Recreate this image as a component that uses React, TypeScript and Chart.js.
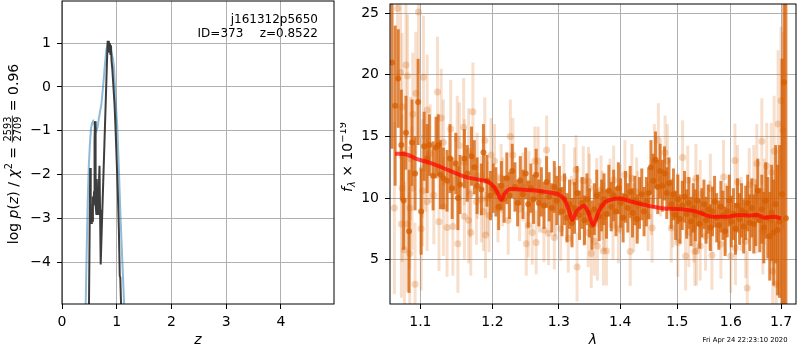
import React, { useEffect, useRef } from "react";
import { Chart, registerables } from "chart.js";
Chart.register(...registerables);

const FAM = "'DejaVu Sans', sans-serif";
const GRID = "#b0b0b0";

// ---------------- left panel: log p(z) ----------------
const zTicks = [0, 1, 2, 3, 4];
const logpTicks = [-4, -3, -2, -1, 0, 1];
const zBlue = [0.42, 0.433, 0.45, 0.47, 0.49, 0.51, 0.53, 0.55, 0.57, 0.59, 0.61, 0.63, 0.65, 0.67, 0.69, 0.72, 0.75, 0.78, 0.81, 0.84, 0.87, 0.9, 0.93, 0.95, 0.98, 1.01, 1.04, 1.07, 1.1, 1.13, 1.15];
const logpBlue = [-6.0, -4.95, -3.8, -2.6, -1.8, -1.3, -0.95, -0.82, -0.78, -0.85, -0.95, -1.0, -0.92, -0.75, -0.6, -0.4, 0.0, 0.45, 0.85, 1.0, 0.95, 0.8, 0.65, 0.45, -0.3, -0.9, -1.9, -3.0, -3.9, -4.8, -5.5];
const zDark = [0.485, 0.5, 0.515, 0.525, 0.535, 0.545, 0.555, 0.565, 0.575, 0.585, 0.595, 0.603, 0.61, 0.618, 0.628, 0.635, 0.645, 0.655, 0.665, 0.675, 0.685, 0.695, 0.707, 0.72, 0.74, 0.76, 0.78, 0.8, 0.82, 0.835, 0.845, 0.855, 0.865, 0.875, 0.885, 0.895, 0.905, 0.92, 0.94, 0.96, 0.98, 1.0, 1.02, 1.04, 1.055, 1.065, 1.08, 1.095];
const logpDark = [-6.0, -4.0, -1.85, -2.6, -3.1, -2.8, -3.05, -2.5, -2.7, -2.4, -1.2, -0.78, -1.6, -2.7, -2.9, -2.1, -2.7, -2.3, -2.9, -2.2, -1.8, -2.8, -4.05, -3.5, -2.7, -1.9, -1.1, -0.3, 0.5, 1.05, 0.9, 1.05, 0.8, 1.0, 0.75, 0.95, 0.6, 0.4, 0.0, -0.4, -1.0, -1.7, -2.4, -3.3, -4.3, -4.35, -5.0, -6.0];
const objName = "j161312p5650";
const objId = "ID=373";
const objZ = "z=0.8522";
const chi2Num = "2593";
const chi2Den = "2709";
const chi2Val = "0.96";

// ---------------- right panel: spectrum ----------------
const lamTicks = [1.1, 1.2, 1.3, 1.4, 1.5, 1.6, 1.7];
const fluxTicks = [5, 10, 15, 20, 25];

const darkLam = [
  1.063, 1.067, 1.071, 1.075, 1.078, 1.081, 1.085, 1.089, 1.093, 1.097, 1.101, 1.105, 1.109, 1.112, 1.117, 1.121, 1.124, 1.127, 1.131, 1.136, 1.14, 1.143, 1.148, 1.151, 1.154, 1.16, 1.164, 1.17, 1.174, 1.178, 1.184, 1.187, 1.192, 1.197, 1.201,
  1.205, 1.209, 1.213, 1.217, 1.221, 1.225, 1.229, 1.233, 1.237, 1.241, 1.245, 1.249, 1.253, 1.257, 1.261, 1.265, 1.269, 1.273, 1.277, 1.281, 1.285, 1.289, 1.293, 1.297, 1.301, 1.305, 1.309, 1.313, 1.317, 1.321, 1.325, 1.329, 1.333, 1.337, 1.341, 1.345, 1.349, 1.353, 1.357, 1.361, 1.365, 1.369,
  1.373, 1.377, 1.381, 1.385, 1.389, 1.393, 1.397, 1.401, 1.405, 1.409, 1.413, 1.417, 1.421, 1.425, 1.429, 1.433, 1.437, 1.441, 1.445, 1.449, 1.453, 1.457, 1.461, 1.465, 1.469, 1.473, 1.477, 1.481, 1.485, 1.489, 1.493, 1.497, 1.501, 1.505, 1.509, 1.513, 1.517, 1.521, 1.525, 1.529, 1.533, 1.537, 1.541,
  1.545, 1.549, 1.553, 1.557, 1.561, 1.565, 1.569, 1.573, 1.577, 1.581, 1.585, 1.589, 1.593, 1.597, 1.601, 1.605, 1.609, 1.613, 1.617, 1.621, 1.625, 1.629, 1.633, 1.637, 1.641, 1.645, 1.649, 1.653, 1.657, 1.661, 1.665, 1.669, 1.673, 1.677, 1.681, 1.685, 1.689, 1.693, 1.697,
  1.702, 1.706, 1.71,
];
const darkFlux = [
  21.0, 17.5, 19.7, 14.3, 9.8, 15.3, 7.3, 14.5, 12.0, 17.8, 8.9, 14.2, 13.2, 14.3, 11.8, 14.1, 14.3, 11.9, 11.6, 11.4, 13.2, 10.8, 12.8, 10.0, 11.1, 13.2, 12.0, 13.4, 12.5, 11.0, 10.7, 13.7, 11.4, 10.2, 10.8,
  10.5, 9.3, 11.0, 9.9, 11.6, 10.2, 12.2, 10.9, 9.6, 11.4, 10.3, 12.0, 9.5, 10.8, 9.9, 11.9, 9.6, 10.5, 9.4, 11.3, 10.1, 9.2, 10.9, 9.8, 10.6, 8.9, 9.9, 8.4, 9.5, 8.0, 9.2, 10.4, 8.6, 9.6, 8.2, 9.9, 8.8, 7.8, 9.1, 10.2, 8.5, 9.4,
  9.9, 8.7, 10.6, 9.3, 10.2, 8.9, 10.8, 9.6, 8.4, 10.1, 9.2, 10.5, 8.8, 9.8, 8.3, 9.6, 10.3, 8.9, 9.7, 10.4, 12.5, 11.4, 13.1, 10.9, 12.2, 11.0, 12.0, 10.4, 11.2, 9.5, 10.3, 8.6, 9.9, 8.3, 9.4, 10.1, 8.7, 9.6, 8.1, 9.2, 8.6, 9.8, 7.9,
  8.8, 9.5, 8.2, 9.1, 7.6, 8.9, 9.7, 8.4, 7.8, 9.3, 8.6, 7.3, 8.9, 9.8, 8.1, 8.7, 7.5, 9.4, 8.3, 9.0, 7.7, 8.8, 9.6, 8.0, 9.2, 7.9, 8.6, 10.6, 8.2, 9.1, 7.6, 9.8, 8.4, 6.9, 8.8, 7.2, 9.5, 7.4, 8.1,
  10.3, 19.4, 8.35,
];
const darkErr = [
  7.0, 6.5, 4.0, 4.5, 4.0, 3.0, 5.0, 3.5, 3.0, 3.5, 3.5, 2.8, 2.8, 2.5, 2.8, 2.5, 2.5, 2.8, 2.5, 2.5, 2.8, 2.5, 2.5, 2.6, 2.4, 2.4, 2.3, 2.4, 2.2, 2.3, 2.1, 2.3, 2.1, 2.0, 2.0,
  2.0, 1.9, 2.0, 1.9, 2.1, 1.9, 2.2, 2.0, 1.9, 2.0, 2.0, 2.1, 1.9, 2.0, 2.0, 2.1, 1.9, 2.0, 1.9, 2.1, 2.0, 2.0, 2.1, 2.0, 2.0, 2.0, 2.1, 2.0, 2.0, 2.0, 2.1, 2.2, 2.0, 2.1, 2.0, 2.1, 2.0, 2.0, 2.1, 2.1, 2.0, 2.1,
  2.1, 2.0, 2.1, 2.0, 2.1, 2.0, 2.1, 2.0, 2.0, 2.1, 2.0, 2.1, 2.0, 2.0, 2.0, 2.1, 2.1, 2.0, 2.0, 2.1, 2.2, 2.2, 2.3, 2.2, 2.2, 2.1, 2.2, 2.1, 2.1, 2.0, 2.1, 2.0, 2.0, 2.0, 2.0, 2.1, 2.0, 2.1, 2.0, 2.0, 2.1, 2.1, 2.0,
  2.0, 2.0, 1.9, 2.0, 1.9, 2.0, 2.1, 2.0, 2.0, 2.1, 2.0, 2.0, 2.1, 2.1, 2.1, 2.1, 2.1, 2.2, 2.1, 2.2, 2.2, 2.2, 2.3, 2.3, 2.4, 2.4, 2.5, 2.6, 2.6, 2.8, 2.9, 3.1, 3.3, 3.6, 3.9, 4.3, 4.8, 5.3, 6.2,
  11.0, 18.0, 20.0,
];

const faintLam = [
  1.07, 1.0975, 1.081, 1.074, 1.083, 1.104, 1.123, 1.094, 1.076, 1.109, 1.09, 1.172, 1.128, 1.141, 1.159, 1.15, 1.189, 1.131, 1.153, 1.166, 1.113, 1.107, 1.103, 1.087, 1.16, 1.178, 1.076, 1.089, 1.103, 1.118, 1.109, 1.168, 1.177, 1.184, 1.131, 1.193, 1.066, 1.086, 1.16, 1.166, 1.187, 1.195, 1.125, 1.136, 1.144, 1.169, 1.19, 1.075, 1.083, 1.101, 1.151, 1.079, 1.086, 1.093,
  1.2262, 1.23, 1.281, 1.198, 1.203, 1.263, 1.268, 1.3274, 1.2127, 1.254, 1.308, 1.325, 1.339, 1.3475, 1.349, 1.361, 1.208, 1.223, 1.24, 1.253, 1.259, 1.277, 1.284, 1.25, 1.265, 1.293, 1.303, 1.315, 1.329, 1.347, 1.357, 1.362, 1.352, 1.377,
  1.466, 1.478, 1.482, 1.459, 1.5095, 1.408, 1.389, 1.42, 1.519, 1.534, 1.368, 1.383, 1.428, 1.454, 1.373, 1.388, 1.397, 1.423, 1.448, 1.455, 1.489, 1.492, 1.521, 1.53, 1.372, 1.417, 1.501, 1.515, 1.532, 1.542,
  1.661, 1.608, 1.586, 1.651, 1.671, 1.686, 1.613, 1.561, 1.542, 1.636, 1.645, 1.68, 1.7, 1.666, 1.552, 1.564, 1.581, 1.6, 1.609, 1.629, 1.663, 1.632, 1.683, 1.69, 1.535, 1.694, 1.704,
  1.215, 1.245, 1.27, 1.295, 1.32, 1.34, 1.37, 1.4, 1.43, 1.47, 1.5, 1.53, 1.56, 1.59, 1.62, 1.65, 1.68,
];
const faintFlux = [
  25.4, 25.1, 20.8, 20.2, 19.9, 19.8, 18.6, 18.5, 17.4, 17.15, 16.8, 17.0, 16.5, 15.6, 15.75, 14.8, 14.67, 14.5, 14.27, 13.8, 13.6, 12.9, 12.4, 13.2, 12.9, 11.8, 10.8, 10.8, 10.6, 10.25, 9.7, 10.3, 9.7, 9.9, 9.3, 9.97, 9.2, 9.2, 8.5, 8.2, 8.9, 8.6, 8.08, 7.6, 7.7, 7.2, 7.0, 7.9, 7.9, 7.5, 6.3, 5.8, 5.5, 3.0,
  15.0, 13.5, 13.9, 13.5, 13.0, 13.0, 13.0, 12.3, 11.6, 11.2, 11.6, 11.3, 11.4, 11.35, 10.8, 10.45, 9.2, 8.2, 9.1, 7.77, 7.2, 7.4, 7.15, 6.3, 6.4, 6.8, 7.5, 6.74, 4.4, 7.2, 6.5, 6.1, 5.5, 5.7,
  14.7, 13.7, 13.0, 13.0, 13.3, 11.9, 11.45, 11.6, 11.45, 11.6, 10.65, 10.4, 10.5, 9.8, 8.5, 7.8, 7.5, 8.4, 8.5, 7.56, 7.56, 8.8, 7.2, 7.56, 5.7, 5.67, 6.4, 5.3, 5.67, 6.1,
  14.6, 13.05, 11.7, 12.8, 12.6, 13.8, 11.3, 10.8, 10.3, 11.05, 11.3, 12.1, 17.9, 9.7, 6.9, 5.35, 6.25, 5.3, 5.94, 6.5, 7.3, 2.7, 4.06, 3.0, 5.7, 16.0, 15.5,
  10.5, 10.9, 10.0, 9.7, 9.0, 8.9, 9.4, 9.9, 9.4, 11.5, 9.2, 8.8, 8.6, 8.4, 8.7, 8.5, 8.2,
];
const faintErr = [
  6, 5, 6, 7, 5, 5, 4.5, 5, 6, 4.5, 5, 4, 4, 4, 4, 3.5, 3.5, 3.5, 3.5, 3.5, 4, 4, 4, 5, 3.5, 3.5, 6, 5, 4.5, 4, 4, 3.5, 3.5, 3.5, 4, 3, 7, 5, 3.5, 3.5, 3.2, 3, 4, 4, 4, 3.5, 3.5, 6, 5.5, 5, 4, 5.5, 5, 5,
  3.0, 3.0, 2.8, 3.0, 3.0, 2.8, 2.8, 2.8, 2.8, 2.6, 2.8, 2.8, 2.8, 2.8, 2.8, 2.8, 2.8, 2.8, 2.6, 2.6, 2.6, 2.6, 2.6, 2.6, 2.6, 2.6, 2.6, 2.8, 2.8, 2.8, 2.8, 2.8, 2.8, 2.8,
  3.0, 3.0, 3.0, 3.0, 3.0, 2.8, 2.8, 2.8, 2.8, 2.8, 2.8, 2.8, 2.8, 2.8, 2.8, 2.8, 2.8, 2.8, 2.8, 2.8, 2.8, 2.8, 2.8, 2.8, 2.8, 2.8, 2.8, 2.8, 2.8, 2.8,
  3.5, 3.0, 3.0, 3.2, 3.5, 4.5, 3.0, 2.8, 2.8, 3.0, 3.0, 4.0, 6.0, 3.5, 2.8, 2.8, 2.8, 3.0, 3.0, 3.0, 3.5, 3.0, 4.5, 5.0, 2.8, 6.0, 8.0,
  2.8, 2.8, 2.8, 2.8, 2.8, 2.8, 2.8, 2.8, 2.8, 3.0, 2.8, 2.8, 2.8, 2.8, 3.0, 3.0, 3.5,
];

const modelLam = [1.067, 1.083, 1.094, 1.116, 1.138, 1.161, 1.184, 1.194, 1.204, 1.2085, 1.2126, 1.217, 1.2262, 1.251, 1.279, 1.3077, 1.315, 1.3216, 1.328, 1.333, 1.34, 1.3465, 1.3553, 1.364, 1.373, 1.376, 1.398, 1.4197, 1.448, 1.476, 1.505, 1.535, 1.5645, 1.595, 1.6155, 1.635, 1.652, 1.666, 1.686, 1.7];
const modelFlux = [13.6, 13.52, 13.2, 12.8, 12.26, 11.72, 11.45, 11.3, 10.8, 10.3, 9.84, 10.3, 10.73, 10.65, 10.5, 9.97, 9.16, 8.23, 8.9, 9.16, 9.38, 8.9, 7.82, 8.9, 9.57, 9.7, 9.97, 9.7, 9.38, 9.16, 9.1, 8.9, 8.49, 8.49, 8.63, 8.57, 8.63, 8.41, 8.49, 8.35];

const stamp = "Fri Apr 24 22:23:10 2020";

// ---------------- helpers ----------------
const minus = (s: string) => s.replace("-", "\u2212");

type Seg = { t?: string; size: number; it?: boolean; dy?: number; frac?: [string, string] };
const fnt = (s: Seg) => `${s.it ? "italic " : ""}${s.size}px ${FAM}`;

function drawRich(ctx: CanvasRenderingContext2D, segs: Seg[], ox: number, oy: number) {
  ctx.save();
  ctx.translate(ox, oy);
  ctx.rotate(-Math.PI / 2);
  ctx.fillStyle = "#000";
  ctx.textBaseline = "alphabetic";
  ctx.textAlign = "left";
  const widths = segs.map((s) => {
    ctx.font = fnt(s);
    if (s.frac) return Math.max(ctx.measureText(s.frac[0]).width, ctx.measureText(s.frac[1]).width) + 2;
    return ctx.measureText(s.t as string).width;
  });
  const total = widths.reduce((a, b) => a + b, 0);
  let x = -total / 2;
  segs.forEach((s, i) => {
    ctx.font = fnt(s);
    const w = widths[i];
    if (s.frac) {
      const [n, d] = s.frac;
      const nw = ctx.measureText(n).width;
      const dw = ctx.measureText(d).width;
      ctx.fillText(n, x + (w - nw) / 2, -7);
      ctx.fillText(d, x + (w - dw) / 2, 3);
      ctx.fillRect(x, -5.6, w, 0.8);
    } else {
      ctx.fillText(s.t as string, x, s.dy || 0);
    }
    x += w;
  });
  ctx.restore();
}

const framePlugin = {
  id: "frame",
  afterDatasetsDraw(chart: any) {
    const { ctx, chartArea: a } = chart;
    ctx.save();
    ctx.strokeStyle = "#000";
    ctx.lineWidth = 1;
    ctx.strokeRect(a.left, a.top, a.right - a.left, a.bottom - a.top);
    ctx.restore();
  },
};

const errorBarPlugin = {
  id: "errbars",
  beforeDatasetDraw(chart: any, args: any) {
    const ds: any = chart.data.datasets[args.index];
    if (!ds.errors) return;
    const { ctx, chartArea: a, scales } = chart;
    const xs = scales.x;
    const ys = scales.y;
    ctx.save();
    ctx.beginPath();
    ctx.rect(a.left, a.top, a.right - a.left, a.bottom - a.top);
    ctx.clip();
    ctx.strokeStyle = ds.errorColor;
    ctx.lineWidth = ds.errorWidth;
    ds.data.forEach((p: any, i: number) => {
      const e = ds.errors[i];
      const px = xs.getPixelForValue(p.x);
      ctx.beginPath();
      ctx.moveTo(px, ys.getPixelForValue(p.y - e));
      ctx.lineTo(px, ys.getPixelForValue(p.y + e));
      ctx.stroke();
    });
    ctx.restore();
  },
};

const leftTextPlugin = {
  id: "leftText",
  afterDraw(chart: any) {
    const ctx: CanvasRenderingContext2D = chart.ctx;
    ctx.save();
    ctx.fillStyle = "#000";
    ctx.font = `12px ${FAM}`;
    ctx.textAlign = "right";
    ctx.textBaseline = "alphabetic";
    ctx.fillText(objName, 318, 22.7);
    ctx.fillText(objZ, 318, 37.3);
    ctx.fillText(objId, 243.3, 37.3);
    ctx.restore();
    drawRich(
      ctx,
      [
        { t: "log", size: 14 },
        { t: " ", size: 14 },
        { t: "p", size: 14, it: true },
        { t: "(", size: 14 },
        { t: "z", size: 14, it: true },
        { t: ")", size: 14 },
        { t: " / ", size: 14 },
        { t: "\u03c7", size: 14, it: true },
        { t: "2", size: 9.8, dy: -5.6 },
        { t: " = ", size: 14 },
        { frac: [chi2Num, chi2Den], size: 9.8 },
        { t: " = " + chi2Val, size: 14 },
      ],
      17.5,
      154
    );
  },
};

const rightTextPlugin = {
  id: "rightText",
  afterDraw(chart: any) {
    const ctx: CanvasRenderingContext2D = chart.ctx;
    drawRich(
      ctx,
      [
        { t: "f", size: 14, it: true },
        { t: "\u03bb", size: 9.8, it: true, dy: 3 },
        { t: " \u00d7 10", size: 14 },
        { t: "\u221219", size: 9.8, dy: -6 },
      ],
      11.5,
      157
    );
    ctx.save();
    ctx.fillStyle = "#000";
    ctx.font = `6.8px ${FAM}`;
    ctx.textAlign = "center";
    ctx.textBaseline = "middle";
    ctx.fillText(stamp, 405, 340);
    ctx.restore();
  },
};

const tickFont = { family: FAM, size: 14 };

function axisX(min: number, max: number, ticks: number[], title: string, type: string, fmt: (v: number) => string) {
  return {
    type,
    min,
    max,
    afterBuildTicks: (s: any) => {
      s.ticks = ticks.map((v) => ({ value: v }));
    },
    afterFit: (s: any) => {
      s.height = 46;
      s.paddingLeft = 0;
      s.paddingRight = 0;
    },
    ticks: { font: tickFont, color: "#000", padding: 5, maxRotation: 0, autoSkip: false, callback: (v: any) => fmt(Number(v)) },
    grid: { color: GRID, lineWidth: 1, tickColor: "#000", tickLength: 5, drawTicks: true },
    border: { display: false },
    title: { display: true, text: title, font: { family: FAM, size: 14, style: "italic" }, color: "#000", padding: { top: 0, bottom: 1.6 } },
  };
}

function axisY(min: number, max: number, ticks: number[], width: number, fmt: (v: number) => string) {
  return {
    type: "linear",
    min,
    max,
    afterBuildTicks: (s: any) => {
      s.ticks = ticks.map((v) => ({ value: v }));
    },
    afterFit: (s: any) => {
      s.width = width;
      s.paddingTop = 0;
      s.paddingBottom = 0;
    },
    ticks: { font: tickFont, color: "#000", padding: 6, autoSkip: false, callback: (v: any) => fmt(Number(v)) },
    grid: { color: GRID, lineWidth: 1, tickColor: "#000", tickLength: 5, drawTicks: true },
    border: { display: false },
    title: { display: false },
  };
}

export default function App() {
  const leftRef = useRef<HTMLCanvasElement>(null);
  const rightRef = useRef<HTMLCanvasElement>(null);

  useEffect(() => {
    const left = new Chart(leftRef.current as HTMLCanvasElement, {
      type: "line",
      data: {
        datasets: [
          {
            data: zDark.map((z, i) => ({ x: z, y: logpDark[i] })),
            borderColor: "rgba(51,51,51,0.95)",
            borderWidth: 2,
            pointRadius: 0,
            order: 0,
            clip: 0,
          } as any,
          {
            data: zBlue.map((z, i) => ({ x: z, y: logpBlue[i] })),
            borderColor: "rgba(31,119,180,0.5)",
            borderWidth: 2,
            pointRadius: 0,
            order: 1,
            clip: 0,
          } as any,
        ],
      },
      options: {
        responsive: false,
        animation: false,
        devicePixelRatio: 1,
        events: [],
        layout: { padding: { top: 1, right: 6, left: 0, bottom: 0 } },
        plugins: { legend: { display: false }, tooltip: { enabled: false } },
        scales: {
          x: axisX(0, 4.97, zTicks, "z", "linear", (v) => String(v)) as any,
          y: axisY(-4.95, 1.96, logpTicks, 62, (v) => minus(String(v))) as any,
        },
      },
      plugins: [framePlugin, leftTextPlugin],
    });

    const right = new Chart(rightRef.current as HTMLCanvasElement, {
      type: "scatter",
      data: {
        datasets: [
          {
            type: "line",
            data: modelLam.map((l, i) => ({ x: l, y: modelFlux[i] })),
            borderColor: "rgba(255,0,0,0.7)",
            borderWidth: 4,
            pointRadius: 0,
            showLine: true,
            cubicInterpolationMode: "monotone",
            order: 0,
            clip: 0,
          } as any,
          {
            data: darkLam.map((l, i) => ({ x: l, y: darkFlux[i] })),
            errors: darkErr,
            errorColor: "rgba(213,94,0,0.75)",
            errorWidth: 3,
            backgroundColor: "rgba(213,94,0,0.75)",
            borderWidth: 0,
            pointRadius: 3,
            order: 1,
            clip: 0,
          } as any,
          {
            data: faintLam.map((l, i) => ({ x: l, y: faintFlux[i] })),
            errors: faintErr,
            errorColor: "rgba(213,94,0,0.2)",
            errorWidth: 3,
            backgroundColor: "rgba(213,94,0,0.25)",
            borderWidth: 0,
            pointRadius: 3.5,
            order: 2,
            clip: 0,
          } as any,
        ],
      },
      options: {
        responsive: false,
        animation: false,
        devicePixelRatio: 1,
        events: [],
        layout: { padding: { top: 1, right: 1, left: 0, bottom: 0 } },
        plugins: { legend: { display: false }, tooltip: { enabled: false } },
        scales: {
          x: axisX(1.0604, 1.731, lamTicks, "\u03bb", "logarithmic", (v) => v.toFixed(1)) as any,
          y: axisY(1.4, 25.75, fluxTicks, 50, (v) => String(v)) as any,
        },
      },
      plugins: [errorBarPlugin, framePlugin, rightTextPlugin],
    });

    return () => {
      left.destroy();
      right.destroy();
    };
  }, []);

  return (
    <div style={{ position: "absolute", left: 0, top: 0, width: 800, height: 350, background: "#fff" }}>
      <canvas ref={leftRef} width={340} height={350} style={{ position: "absolute", left: 0, top: 0, width: 340, height: 350 }} />
      <canvas ref={rightRef} width={460} height={350} style={{ position: "absolute", left: 340, top: 0, width: 460, height: 350 }} />
    </div>
  );
}
